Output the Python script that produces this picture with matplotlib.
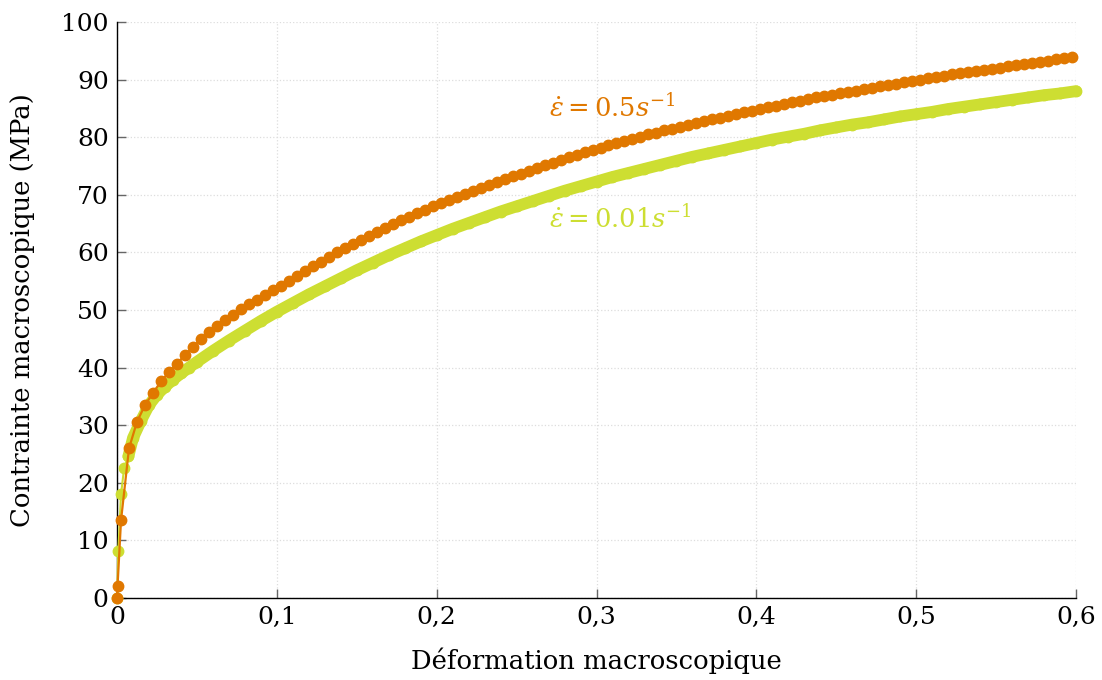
import numpy as np
import matplotlib
import matplotlib.pyplot as plt
from matplotlib.ticker import FuncFormatter

matplotlib.use('Agg')

# ------------------------ Data ------------------------
# fast test: 0.5 s^-1, one point every 0.005 of strain (plus the two first ones)
strain_fast = np.concatenate([[0.0, 0.0003], np.arange(0.0025, 0.6, 0.005)])
stress_fast = [0.0, 2.0,
               13.5, 26.0, 30.6, 33.5, 35.6, 37.6, 39.2, 40.7, 42.2, 43.6,
               44.9, 46.1, 47.2, 48.2, 49.2, 50.1, 51.0, 51.8, 52.6, 53.4,
               54.2, 55.1, 55.9, 56.8, 57.6, 58.4, 59.2, 60.0, 60.7, 61.5,
               62.2, 62.9, 63.6, 64.3, 65.0, 65.6, 66.2, 66.8, 67.4, 68.0,
               68.5, 69.1, 69.6, 70.2, 70.7, 71.2, 71.7, 72.2, 72.7, 73.2,
               73.7, 74.2, 74.7, 75.2, 75.6, 76.1, 76.5, 77.0, 77.4, 77.8,
               78.2, 78.6, 79.0, 79.4, 79.7, 80.1, 80.5, 80.8, 81.2, 81.5,
               81.8, 82.2, 82.5, 82.8, 83.1, 83.4, 83.7, 84.0, 84.3, 84.6,
               84.9, 85.2, 85.5, 85.8, 86.1, 86.3, 86.6, 86.9, 87.1, 87.4,
               87.6, 87.9, 88.1, 88.4, 88.6, 88.9, 89.1, 89.3, 89.6, 89.8,
               90.0, 90.2, 90.5, 90.7, 90.9, 91.1, 91.3, 91.5, 91.7, 91.9,
               92.1, 92.3, 92.5, 92.7, 92.9, 93.1, 93.3, 93.5, 93.7, 93.9]

# slow test: 0.01 s^-1
strain_slow = [0.0, 0.0008, 0.0025, 0.0044, 0.0071, 0.01, 0.015, 0.02, 0.025,
               0.03, 0.035, 0.04, 0.045, 0.05, 0.06, 0.07, 0.08, 0.09, 0.10,
               0.11, 0.12, 0.13, 0.14, 0.15, 0.16, 0.17, 0.18, 0.19, 0.20,
               0.21, 0.22, 0.23, 0.24, 0.25, 0.26, 0.27, 0.28, 0.29, 0.30,
               0.31, 0.32, 0.33, 0.34, 0.35, 0.36, 0.37, 0.38, 0.39, 0.40,
               0.41, 0.42, 0.43, 0.44, 0.45, 0.46, 0.47, 0.48, 0.49, 0.50,
               0.51, 0.52, 0.53, 0.54, 0.55, 0.56, 0.57, 0.58, 0.59, 0.60]
stress_slow = [0.0, 8.2, 18.0, 22.5, 24.6, 27.8, 30.8, 33.5, 35.3,
               36.7, 37.9, 39.0, 40.0, 41.0, 42.9, 44.7, 46.4, 48.1, 49.7,
               51.2, 52.7, 54.1, 55.5, 56.9, 58.2, 59.5, 60.7, 61.9, 63.0,
               64.1, 65.1, 66.1, 67.1, 68.0, 68.9, 69.8, 70.7, 71.5, 72.3,
               73.1, 73.8, 74.5, 75.2, 75.9, 76.6, 77.2, 77.8, 78.4, 79.0,
               79.6, 80.1, 80.6, 81.2, 81.7, 82.2, 82.6, 83.1, 83.6, 84.0,
               84.4, 84.9, 85.3, 85.7, 86.1, 86.5, 86.9, 87.3, 87.6, 88.0]

x_ticks = [0, 0.1, 0.2, 0.3, 0.4, 0.5, 0.6]
y_ticks = [0, 10, 20, 30, 40, 50, 60, 70, 80, 90, 100]

orange = '#E07800'
green = '#CDDE32'

# ---------------------------------- Plotting ------------------------------------
plt.rcParams['font.family'] = 'DejaVu Serif'
plt.rcParams['mathtext.fontset'] = 'dejavuserif'

fig = plt.figure(figsize=(11.02, 6.8), dpi=100)
ax = fig.add_axes([0.1062, 0.1206, 0.8702, 0.847])

# slow curve: the markers are so dense they merge into a thick band
ax.plot(strain_slow, stress_slow, '-o', color=green, lw=1.5, ms=7.5,
        clip_on=False, zorder=3)
ax.plot(strain_slow[4:], stress_slow[4:], '-', color=green, lw=8.5,
        solid_capstyle='round', solid_joinstyle='round', clip_on=False, zorder=3)
ax.plot(strain_fast, stress_fast, '-o', color=orange, lw=1.6, ms=7.5,
        clip_on=False, zorder=4)

ax.text(0.27, 85.0, r'$\dot{\varepsilon} = 0.5s^{-1}$', color=orange,
        fontsize=18.5, va='center', ha='left')
ax.text(0.27, 65.8, r'$\dot{\varepsilon} = 0.01s^{-1}$', color=green,
        fontsize=18.5, va='center', ha='left')

ax.set_xlim(0, 0.6)
ax.set_ylim(0, 100)
ax.set_xticks(x_ticks)
ax.set_yticks(y_ticks)
ax.xaxis.set_major_formatter(FuncFormatter(lambda v, p: f"{v:g}".replace('.', ',')))

for s in ['top', 'right']:
    ax.spines[s].set_visible(False)
for s in ['left', 'bottom']:
    ax.spines[s].set_linewidth(1.0)
ax.tick_params(direction='in', length=6.5, width=1.0, color='#666666',
               labelsize=18, pad=6)
ax.grid(True, linestyle=':', color='#dddddd', lw=0.9)
ax.set_axisbelow(True)

ax.set_xlabel("Déformation macroscopique", fontsize=18.6, labelpad=13)
ax.set_ylabel("Contrainte macroscopique (MPa)", fontsize=18.6, labelpad=19)

plt.savefig("out.png", dpi=100)
